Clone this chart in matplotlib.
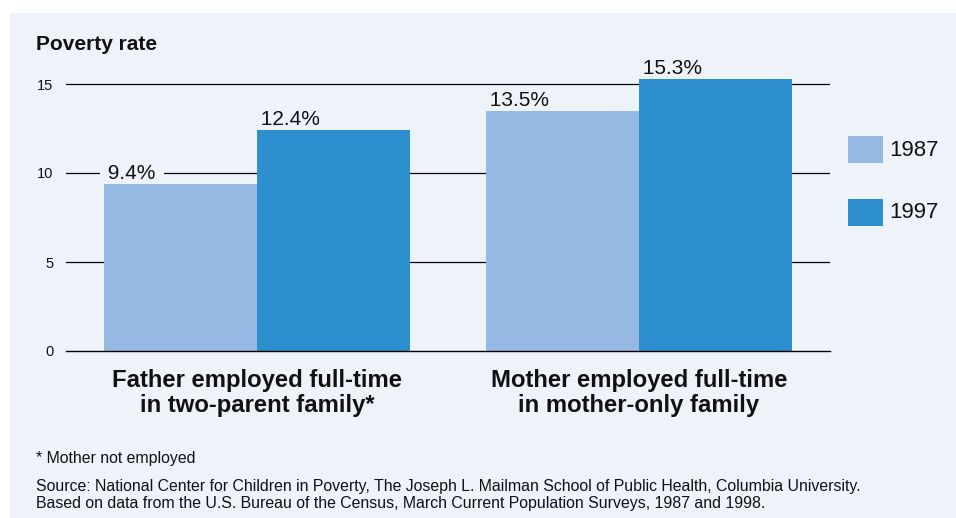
import matplotlib.pyplot as plt
from matplotlib.patches import Rectangle

plt.rcParams['font.family'] = ['Liberation Sans', 'DejaVu Sans']

categories = ["Father employed full-time\nin two-parent family*",
              "Mother employed full-time\nin mother-only family"]
years = ["1987", "1997"]
rate_1987 = [9.4, 13.5]
rate_1997 = [12.4, 15.3]
colors = ["#95b9e2", "#2e8fcf"]
bg = "#eef3fa"

W, H = 956, 518
fig = plt.figure(figsize=(W / 100, H / 100), dpi=100)
fig.patch.set_facecolor("white")

def fx(x):
    return x / W

def fy(y):
    return 1 - y / H

# light panel behind everything
fig.patches.append(Rectangle((fx(10), 0), 1 - fx(10), fy(13), transform=fig.transFigure,
                             facecolor=bg, edgecolor="none", zorder=-5))

# axes: x 66..830 px, y=0 at 351 px, 17.8 px per unit
ytop = 17.0
ax = fig.add_axes([fx(66), fy(351), fx(830 - 66), (ytop * 17.8) / H])
ax.set_facecolor("none")
ax.set_xlim(-0.5, 1.5)
ax.set_ylim(0, ytop)
for s in ax.spines.values():
    s.set_visible(False)

ax.set_yticks([0, 5, 10, 15])
ax.tick_params(axis="y", length=0, pad=9, labelsize=10.5, labelcolor="#111111")
ax.set_xticks([])
for v in [5, 10, 15]:
    ax.axhline(v, color="black", lw=0.9, zorder=1)
ax.axhline(0, color="black", lw=1.0, zorder=5, clip_on=False)

w = 0.4
xs = range(len(categories))
series = [rate_1987, rate_1997]
for i, vals in enumerate(series):
    for x, v in zip(xs, vals):
        left = x - w + i * w
        ax.bar(left, v, width=w, align="edge", color=colors[i], zorder=4)
        # spaces widen the background box that breaks the gridline
        ax.annotate(f" {v}% ", (left, v), xytext=(-2, 5), textcoords="offset pixels",
                    ha="left", va="baseline", fontsize=15, color="#111111", zorder=3,
                    bbox=dict(boxstyle="square,pad=0.12", facecolor=bg, edgecolor="none"))

for x, c in zip(xs, categories):
    ax.annotate(c, (x, 0), xytext=(0, -18), textcoords="offset pixels",
                ha="center", va="top", fontsize=17.2, fontweight="bold",
                linespacing=1.1, color="#111111")

fig.text(fx(36), fy(45), "Poverty rate", fontsize=15, fontweight="bold",
         va="center", ha="left", color="#111111")

# legend
for i, (yr, ytop_px) in enumerate(zip(years, [136, 199])):
    fig.patches.append(Rectangle((fx(848), fy(ytop_px + 27)), fx(35), 27 / H,
                                 transform=fig.transFigure, facecolor=colors[i],
                                 edgecolor="none", zorder=2))
    fig.text(fx(889), fy(ytop_px + 14), yr, fontsize=16, va="center", ha="left",
             color="#111111")

fig.text(fx(36), fy(458), "* Mother not employed", fontsize=11.4,
         va="center", ha="left", color="#111111")
fig.text(fx(36), fy(495),
         "Source: National Center for Children in Poverty, The Joseph L. Mailman School of Public Health, Columbia University.\n"
         "Based on data from the U.S. Bureau of the Census, March Current Population Surveys, 1987 and 1998.",
         fontsize=11.45, va="center", ha="left", linespacing=1.15, color="#111111")

fig.savefig("out.png", dpi=100)
